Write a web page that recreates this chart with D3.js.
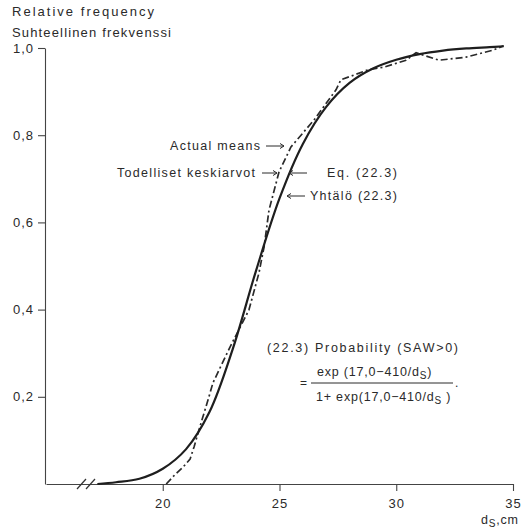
<!DOCTYPE html>
<html>
<head>
<meta charset="utf-8">
<script src="https://cdn.jsdelivr.net/npm/d3@7"></script>
<style>
  html, body { margin: 0; padding: 0; background: #fff; }
  svg { display: block; font-family: "Liberation Sans", Arial, sans-serif; }
</style>
</head>
<body>
<div id="chart"></div>
<script>
// diameter (cm) and relative frequency
const eqD = [17.2, 18, 19, 20, 21, 22, 23, 24, 25, 26, 27, 28, 29, 30, 31, 32, 33, 34, 34.6];
const eqP = [0, 0.004, 0.012, 0.035, 0.08, 0.165, 0.31, 0.49, 0.655, 0.78, 0.865, 0.92, 0.953, 0.973, 0.986, 0.994, 0.999, 1.002, 1.004];

const actD = [20.15, 20.5, 20.87, 21.17, 21.34, 21.55, 21.72, 21.94, 22.15, 22.88, 23.69, 24.12, 24.34, 24.55, 24.98, 25.49, 26.48, 27.42, 27.63, 28.19, 28.79, 29.48, 30.42, 30.85, 31.83, 32.99, 34.14, 34.6];
const actP = [0, 0.02, 0.039, 0.057, 0.085, 0.124, 0.154, 0.193, 0.232, 0.314, 0.399, 0.484, 0.544, 0.628, 0.716, 0.773, 0.835, 0.904, 0.927, 0.938, 0.950, 0.956, 0.972, 0.989, 0.972, 0.979, 0.995, 1.005];

const xTicks = [20, 25, 30, 35];
const yTicks = [0.2, 0.4, 0.6, 0.8, 1.0];

const width = 530, height = 528;
const ink = '#2a2a2a';

const svg = d3.select('#chart').append('svg')
  .attr('width', width)
  .attr('height', height)
  .attr('viewBox', [0, 0, width, height]);

const x = d3.scaleLinear().domain([15, 35]).range([46, 513]);
const y = d3.scaleLinear().domain([0, 1]).range([484, 48]);

// axes
const xAxis = svg.append('g')
  .attr('transform', `translate(0,${y(0)})`)
  .call(d3.axisBottom(x).tickValues(xTicks).tickSize(7).tickSizeOuter(0).tickPadding(8));

const yAxis = svg.append('g')
  .attr('transform', `translate(${x(15) - 1},0)`)
  .call(d3.axisLeft(y).tickValues(yTicks).tickSize(7).tickSizeOuter(0).tickPadding(4)
    .tickFormat(d => d.toFixed(1).replace('.', ',')));

[xAxis, yAxis].forEach(g => {
  g.selectAll('path, line').attr('stroke', '#444').attr('stroke-width', 1.1);
  g.selectAll('text').attr('fill', ink).style('font-size', '13px').style('letter-spacing', '1px');
});

// axis break
[0, 9].forEach(off => {
  svg.append('line')
    .attr('x1', 77 + off).attr('y1', y(0) + 5)
    .attr('x2', 86 + off).attr('y2', y(0) - 5)
    .attr('stroke', '#333').attr('stroke-width', 1.2);
});

// curves
const line = d3.line().x(d => x(d[0])).y(d => y(d[1]));

svg.append('path')
  .datum(d3.zip(actD, actP))
  .attr('fill', 'none')
  .attr('stroke', ink)
  .attr('stroke-width', 1.7)
  .attr('stroke-dasharray', '7,3,2,3')
  .attr('d', line.curve(d3.curveLinear));

svg.append('path')
  .datum(d3.zip(eqD, eqP))
  .attr('fill', 'none')
  .attr('stroke', '#1e1e1e')
  .attr('stroke-width', 2.2)
  .attr('d', line.curve(d3.curveCatmullRom));

// text helper
function label(txt, tx, ty, len, size) {
  return svg.append('text')
    .attr('x', tx).attr('y', ty)
    .attr('fill', ink)
    .style('font-size', (size || 12.5) + 'px')
    .attr('textLength', len)
    .attr('lengthAdjust', 'spacing')
    .text(txt);
}

label('Relative frequency', 12, 16, 142, 13);
label('Suhteellinen frekvenssi', 12, 37, 159, 13);

label('Actual means', 170, 150, 90);
label('Todelliset keskiarvot', 117, 177, 138);
label('Eq. (22.3)', 327, 177, 70);
label('Yhtälö (22.3)', 310, 200, 87);

// arrows
function arrow(x1, x2, yy) {
  const dir = Math.sign(x2 - x1);
  svg.append('line').attr('x1', x1).attr('y1', yy).attr('x2', x2).attr('y2', yy)
    .attr('stroke', ink).attr('stroke-width', 1);
  svg.append('path')
    .attr('d', `M${x2 - dir * 4},${yy - 2.5}L${x2},${yy}L${x2 - dir * 4},${yy + 2.5}`)
    .attr('fill', 'none').attr('stroke', ink).attr('stroke-width', 1);
}
arrow(266, 284, 146);
arrow(262, 277, 173);
arrow(307, 289, 173);
arrow(305, 287, 196);

// formula
label('(22.3) Probability (SAW>0)', 267, 352, 191);
svg.append('text').attr('x', 300).attr('y', 387).attr('fill', ink)
  .style('font-size', '12px').text('=');
svg.append('line').attr('x1', 311).attr('x2', 453).attr('y1', 383).attr('y2', 383)
  .attr('stroke', ink).attr('stroke-width', 1);
svg.append('text').attr('x', 455).attr('y', 387).attr('fill', ink)
  .style('font-size', '12px').text('.');

function subText(tx, ty, parts) {
  const t = svg.append('text').attr('x', tx).attr('y', ty).attr('fill', ink)
    .style('font-size', '12.5px').style('letter-spacing', '0.8px');
  parts.forEach(p => {
    const s = t.append('tspan').text(p.t);
    if (p.sub) s.attr('dy', 3).style('font-size', '10px');
    if (p.back) s.attr('dy', -3);
  });
  return t;
}
subText(317, 376, [{ t: 'exp (17,0−410/d' }, { t: 'S', sub: true }, { t: ')', back: true }]);
subText(316, 401, [{ t: '1+ exp(17,0−410/d' }, { t: 'S', sub: true }, { t: ' )', back: true }]);

// x axis title
subText(481, 524, [{ t: 'd' }, { t: 'S', sub: true }, { t: ',cm', back: true }]);
</script>
</body>
</html>
